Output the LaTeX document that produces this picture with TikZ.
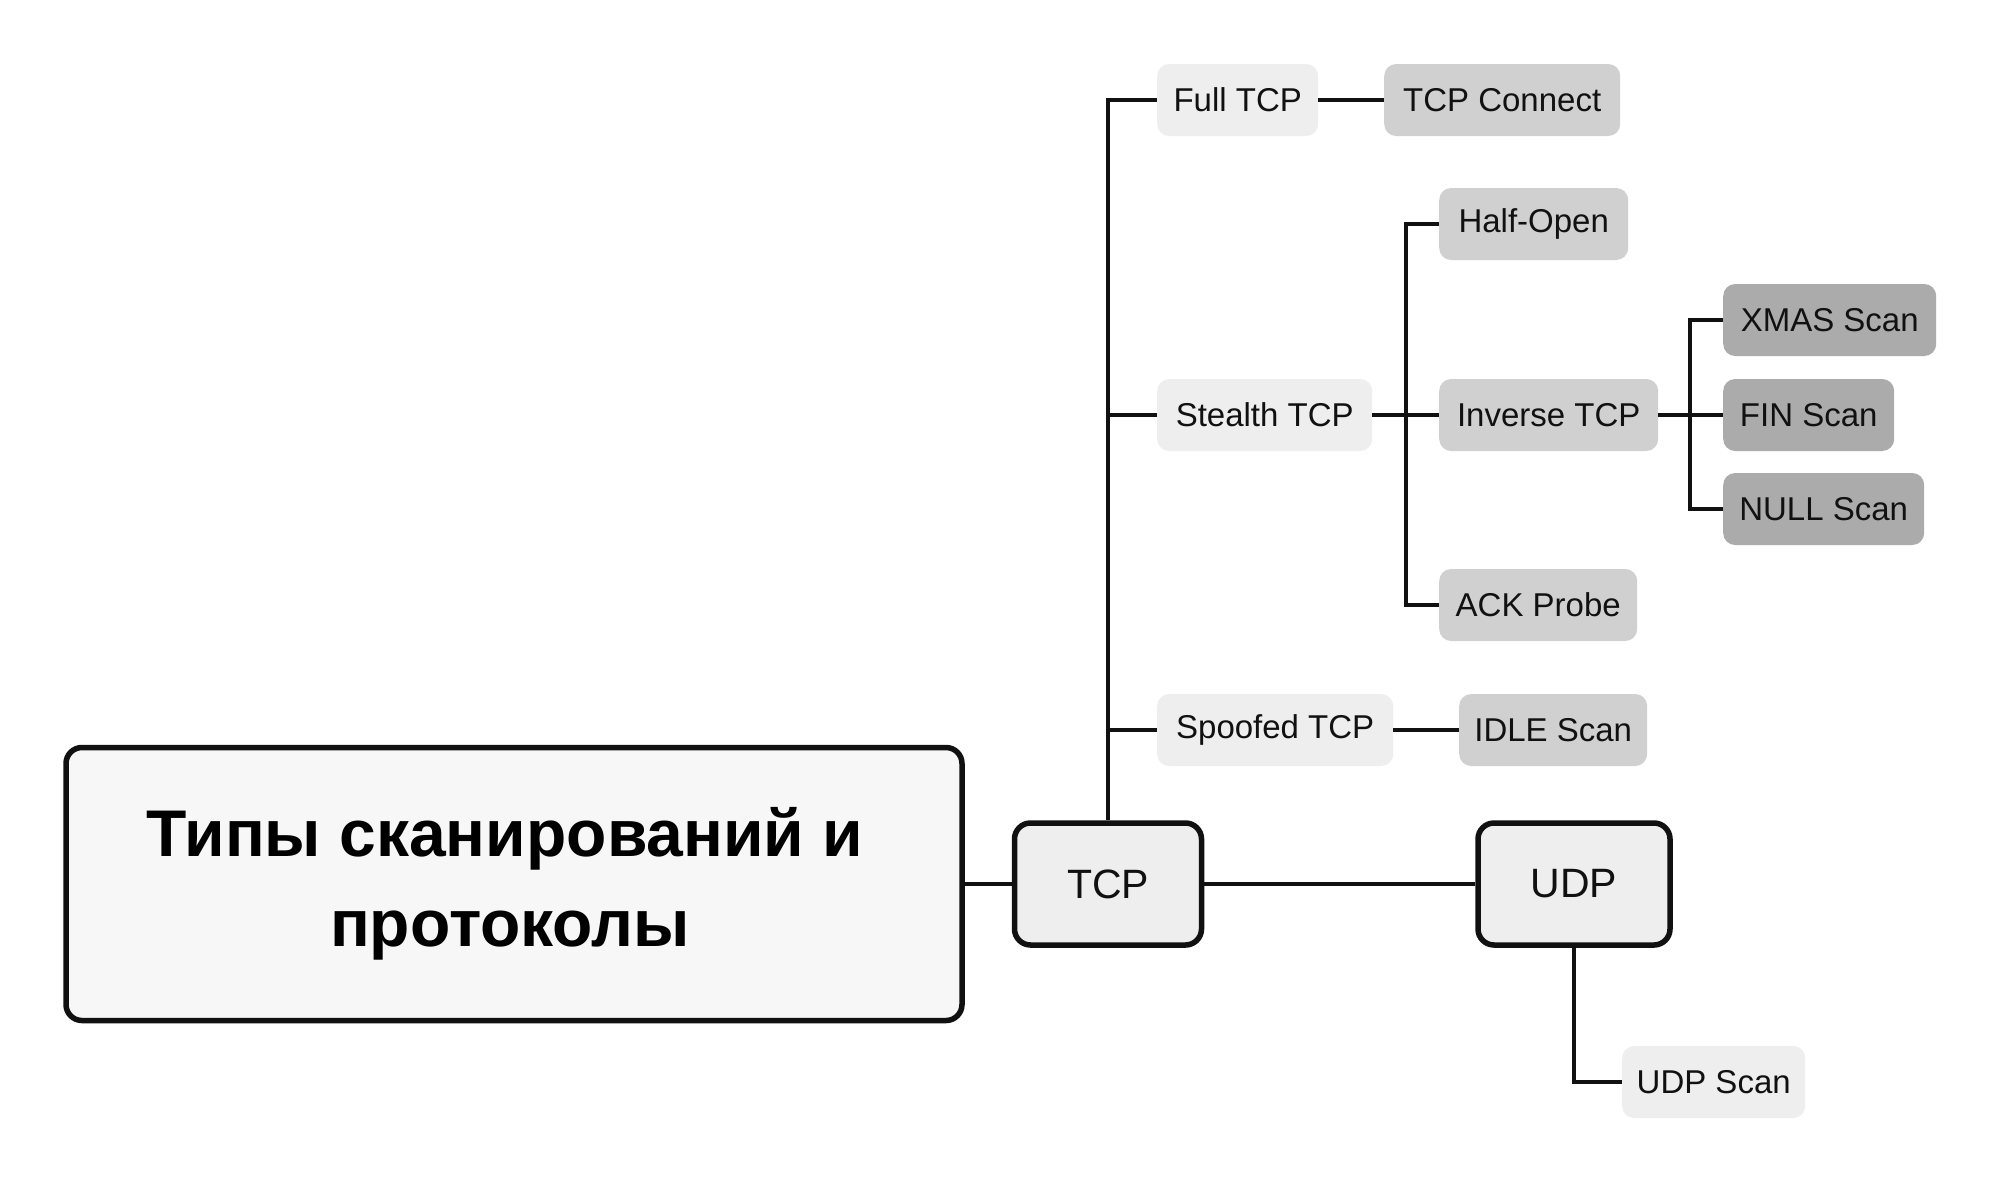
\documentclass[tikz,border=0pt]{standalone}
\usepackage{fontspec}
\setmainfont{Liberation Sans}
\definecolor{txt}{HTML}{111111}
\definecolor{edge}{HTML}{111111}
\definecolor{cmain}{HTML}{F7F7F7}
\definecolor{cone}{HTML}{EEEEEE}
\definecolor{ctwo}{HTML}{D0D0D0}
\definecolor{cthree}{HTML}{ABABAB}
\begin{document}
\begin{tikzpicture}[x=1pt,y=-1pt,
  leaf/.style={anchor=west, rounded corners=12pt, minimum height=72pt, inner xsep=0pt,
    text=txt, font=\fontsize{33}{38}\selectfont},
  lone/.style={leaf, fill=cone},
  ltwo/.style={leaf, fill=ctwo},
  lthree/.style={leaf, fill=cthree},
  proto/.style={draw=edge, line width=5.5pt, fill=cone, rounded corners=16pt, minimum height=122pt,
    inner xsep=0pt, text=txt, font=\fontsize{41}{48}\selectfont},
  conn/.style={draw=edge, line width=4.5pt}]
\useasboundingbox (0,0) rectangle (2000,1181);
\fill[white] (0,0) rectangle (2000,1181);

\node[draw=edge, line width=5.5pt, fill=cmain, rounded corners=16pt, minimum width=896pt, minimum height=273pt,
  align=center, text=black, font=\bfseries\fontsize{66}{90}\selectfont] (main) at (514,884)
  {Типы сканирований и\hspace*{18pt}\\протоколы\hspace*{8pt}};
\node[proto, minimum width=187pt] (tcp) at (1108,884) {TCP};
\node[proto, minimum width=192pt] (udp) at (1574,884) {UDP};

\node[lone, minimum width=161pt] (full) at (1157,100) {Full TCP};
\node[ltwo, minimum width=236pt] (connect) at (1384,100) {TCP Connect};
\node[lone, minimum width=215pt] (stealth) at (1157,415) {Stealth TCP};
\node[ltwo, minimum width=189pt] (half) at (1439,224) {Half-Open};
\node[ltwo, minimum width=219pt] (inverse) at (1439,415) {Inverse TCP};
\node[ltwo, minimum width=198pt] (ack) at (1439,605) {ACK Probe};
\node[lthree, minimum width=213pt] (xmas) at (1723,320) {XMAS Scan};
\node[lthree, minimum width=171pt] (fin) at (1723,415) {FIN Scan};
\node[lthree, minimum width=201pt] (null) at (1723,509) {NULL Scan};
\node[lone, minimum width=236pt] (spoofed) at (1157,730) {Spoofed TCP};
\node[ltwo, minimum width=188pt] (idle) at (1459,730) {IDLE Scan};
\node[lone, minimum width=183pt] (udpscan) at (1622,1082) {UDP Scan};

\coordinate (ja) at (1406,415);
\coordinate (jb) at (1690,415);

\path[conn] (main.east) -- (tcp.west);
\path[conn] (tcp.east) -- (udp.west);
\path[conn] (tcp.north) -- (tcp.north |- full.west) -- (full.west);
\path[conn] (tcp.north |- stealth.west) -- (stealth.west);
\path[conn] (tcp.north |- spoofed.west) -- (spoofed.west);
\path[conn] (full.east) -- (connect.west);
\path[conn] (spoofed.east) -- (idle.west);
\path[conn] (stealth.east) -- (inverse.west);
\path[conn] (half.west) -- (ja |- half.west) -- (ja |- ack.west) -- (ack.west);
\path[conn] (inverse.east) -- (fin.west);
\path[conn] (xmas.west) -- (jb |- xmas.west) -- (jb |- null.west) -- (null.west);
\path[conn] (udp.south) -- (udp.south |- udpscan.west) -- (udpscan.west);
\end{tikzpicture}
\end{document}
